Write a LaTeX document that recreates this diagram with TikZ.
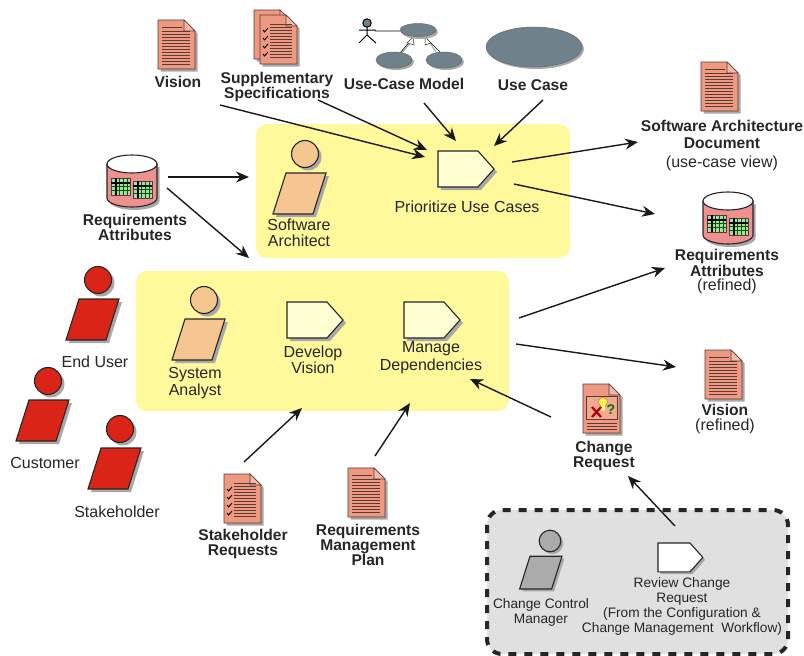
\documentclass[tikz,border=0pt]{standalone}
\usepackage{fontspec}
\setmainfont{Liberation Sans}
\usetikzlibrary{arrows.meta,shapes.geometric}
\definecolor{docfill}{HTML}{EE9A82}
\definecolor{docline}{HTML}{5A3A32}
\definecolor{shad}{HTML}{A8A8A8}
\definecolor{panel}{HTML}{FFF99C}
\definecolor{actfill}{HTML}{FFFFD2}
\definecolor{redp}{HTML}{DA2418}
\definecolor{orgp}{HTML}{F5C68F}
\definecolor{grayp}{HTML}{ABABAB}
\definecolor{ucfill}{HTML}{6F828C}
\definecolor{dbfill}{HTML}{EF9090}
\definecolor{tabfill}{HTML}{A9DCA4}
\definecolor{graybox}{HTML}{E0E0E0}
\newcommand\regtxt{\normalfont\fontsize{16}{16.5}\selectfont}
\tikzset{
  x=1pt,y=-1pt,
  arr/.style={-{Stealth[length=13pt,width=11pt]},line width=1.4pt,draw=black!90},
  lab/.style={font=\fontsize{16}{16.5}\selectfont,align=center,inner sep=0pt,text=black!85},
  blab/.style={font=\bfseries\fontsize{15.6}{14.5}\selectfont,align=center,inner sep=0pt,text=black!85},
  slab/.style={font=\fontsize{13.7}{15}\selectfont,align=center,inner sep=0pt,text=black!85},
  hold/.style={inner sep=0pt,outer sep=0pt},
  outl/.style={draw=black!85,line width=1.1pt,line join=miter},
  panelbox/.style={fill=panel,rounded corners=11pt},
  dline/.style={draw=docline,line width=.7pt},
}
% page shape: name, left, top
\newcommand\docshape[3]{%
  \node[hold,minimum width=37pt,minimum height=49pt] (#1) at (#2+18.5,#3+24.5) {};
  \begin{scope}[shift={(#2,#3)}]
    \fill[shad] (2.5,2.5) -- (28.5,2.5) -- (39.5,13.5) -- (39.5,51.5) -- (2.5,51.5) -- cycle;
    \filldraw[fill=docfill,draw=docline,line width=.9pt] (0,0) -- (26,0) -- (37,11) -- (37,49) -- (0,49) -- cycle;
    \draw[draw=docline,line width=.7pt,fill=docfill!70!white] (26,0) -- (26,11) -- (37,11) -- cycle;
  \end{scope}}
\newcommand\textlines[3]{% shift x, shift y, x-start
  \begin{scope}[shift={(#1,#2)}]
    \draw[dline] (#3,7) -- (24,7);
    \foreach \yy in {11,14,17,20,23,26,29,32,35,38,41,44} \draw[dline] (#3,\yy) -- (32,\yy);
  \end{scope}}
\newcommand\checkrows[2]{%
  \begin{scope}[shift={(#1,#2)}]
    \foreach \yy in {15,23,31,39}{
      \draw[black,line width=.9pt] (3,\yy) -- (4.5,\yy+2) -- (8,\yy-2);
    }
    \foreach \yy in {9,12,15,18,21,24,27,30,33,36,39,42}\draw[dline] (10,\yy) -- (32,\yy);
  \end{scope}}
\newcommand\person[6]{% name, head x, head y, body x-shift, fill, scale
  \begin{scope}[shift={(#2,#3)},scale=#6]
    \node[hold,minimum width=42pt,minimum height=60pt] (#1) at (-2,20) {};
    \fill[shad] (3,3) circle (13.5);
    \fill[shad] (#4-16,22) -- (#4+24,22) -- (#4+11,63) -- (#4-29,63) -- cycle;
    \filldraw[fill=#5,outl] (0,0) circle (13.5);
    \filldraw[fill=#5,outl] (#4-19,19) -- (#4+21,19) -- (#4+8,60) -- (#4-32,60) -- cycle;
  \end{scope}}
\newcommand\activity[5]{% name, left, top, fill, scale
  \node[hold,minimum width=56pt,minimum height=36pt] (#1) at (#2+28,#3+18) {};
  \begin{scope}[shift={(#2,#3)},scale=#5]
    \fill[shad] (3,3) -- (43,3) -- (59,21) -- (43,39) -- (3,39) -- cycle;
    \filldraw[fill=#4,outl] (0,0) -- (40,0) -- (56,18) -- (40,36) -- (0,36) -- cycle;
  \end{scope}}
\newcommand\tabl[2]{%
  \begin{scope}[shift={(#1,#2)}]
    \filldraw[fill=tabfill,draw=docline,line width=.4pt] (0,0) rectangle (19,17);
    \foreach \xx in {4,8,12,16}\draw[draw=green!35!black,line width=.3pt] (\xx,0) -- (\xx,17);
    \foreach \yy in {4,8,12}\draw[draw=green!35!black,line width=.3pt] (0,\yy) -- (19,\yy);
    \draw[black,line width=1.3pt] (5,0) -- (5,17);
    \draw[black,line width=1.3pt] (0,5) -- (19,5);
  \end{scope}}
\newcommand\dbshape[3]{% name, left, top
  \node[hold,minimum width=50pt,minimum height=52pt] (#1) at (#2+25,#3+26) {};
  \begin{scope}[shift={(#2,#3)}]
    \fill[shad] (2.5,12) -- (2.5,46) arc[start angle=180,end angle=0,x radius=25,y radius=9] -- (52.5,12) -- cycle;
    \filldraw[fill=dbfill,outl] (0,9) -- (0,43) arc[start angle=180,end angle=0,x radius=25,y radius=9] -- (50,9) -- cycle;
    \filldraw[fill=white,outl] (25,9) ellipse [x radius=25,y radius=9];
    \tabl{4}{23}\tabl{26}{26}
  \end{scope}}
\begin{document}
\begin{tikzpicture}
\useasboundingbox (0,0) rectangle (804,656);
% panels
\fill[panelbox] (256,124) rectangle (570,258);
\fill[panelbox] (136,271) rectangle (509,411);
\filldraw[fill=graybox,draw=black!85,line width=4pt,dash pattern=on 8pt off 8pt,rounded corners=15pt] (487,510) rectangle (788,654);

% top row artefacts
\docshape{visionDoc}{158}{20}\textlines{158}{20}{4}
\node[blab] (visionLab) at (178,82) {Vision};
\docshape{suppBack}{254}{10}
\docshape{suppDoc}{260}{15}\checkrows{260}{15}
\node[blab] (suppLab) at (277,87) {Supplementary\\Specifications};

% use-case model
\node[hold,minimum width=100pt,minimum height=56pt] (ucmIcon) at (410,42) {};
\draw[shad,line width=1.6pt] (375,31) -- (400,31);
\draw[shad,line width=1pt] (400,55) -- (413,40);
\draw[shad,line width=1pt] (438,55) -- (428,40);
\draw[black,line width=.6pt] (400,53) -- (412,39);
\draw[black,line width=.6pt] (440,52) -- (427,39);
\fill[white,draw=black!80,line width=.5pt] (413,37) -- (414,45) -- (407,43) -- cycle;
\fill[white,draw=black!80,line width=.5pt] (425,37) -- (431,43) -- (425,45) -- cycle;
\fill[shad] (420,32) ellipse [x radius=18,y radius=7];
\filldraw[fill=ucfill,draw=black!60,line width=.5pt] (418,30) ellipse [x radius=18,y radius=6.5];
\fill[shad] (396,62) ellipse [x radius=18,y radius=8];
\filldraw[fill=ucfill,draw=black!60,line width=.5pt] (394,60) ellipse [x radius=18,y radius=8];
\fill[shad] (446,62) ellipse [x radius=18,y radius=8];
\filldraw[fill=ucfill,draw=black!60,line width=.5pt] (444,60) ellipse [x radius=18,y radius=8];
\filldraw[fill=ucfill,draw=black,line width=1pt] (367,23) circle (4.2);
\draw[black,line width=1pt] (367,27) -- (367,35) (359,30) -- (376,30) (367,35) -- (359,43) (367,35) -- (376,43);
\node[blab] (ucmLab) at (404,84) {Use-Case Model};

\node[hold,minimum width=96pt,minimum height=40pt] (ucIcon) at (534,47) {};
\fill[shad] (536,49) ellipse [x radius=48,y radius=20];
\filldraw[fill=ucfill,draw=black!60,line width=.5pt] (534,47) ellipse [x radius=48,y radius=20];
\node[blab] (ucLab) at (533,85) {Use Case};

% right column
\docshape{sadDoc}{701}{62}\textlines{701}{62}{4}
\node[blab] (sadLab) at (722,134.5) {Software Architecture\\[2pt]Document};
\node[lab] (sadSub) at (722,163) {(use-case view)};
\dbshape{dbRight}{703}{192}
\node[blab] (dbRightLab) at (727,271.5) {Requirements\\Attributes\\{\regtxt (refined)}};
\docshape{visionRDoc}{705}{350}\textlines{705}{350}{4}
\node[blab] (visionRLab) at (725,419) {Vision\\{\regtxt (refined)}};

% left database
\dbshape{dbLeft}{107}{155}
\node[blab] (dbLeftLab) at (135,227.5) {Requirements\\Attributes};

% people in panels
\person{archP}{305}{154}{0}{orgp}{1}
\node[lab] (archLab) at (299,233) {Software\\Architect};
\person{sysP}{204}{300}{0}{orgp}{1}
\node[lab] (sysLab) at (195,383) {System\\Analyst};

% activities
\activity{prio}{438}{151}{actfill}{1}
\node[lab] (prioLab) at (467,207) {Prioritize Use Cases};
\activity{devV}{287}{302}{actfill}{1}
\node[lab] (devLab) at (313,360) {Develop\\Vision};
\activity{mgd}{404}{302}{actfill}{1}
\node[lab] (mgdLab) at (431,358) {Manage\\[1.5pt]Dependencies};

% stakeholders
\person{endU}{98}{280}{0}{redp}{1}
\node[lab] (endLab) at (95,362) {End User};
\person{cust}{48}{381}{0}{redp}{1}
\node[lab] (custLab) at (45,463) {Customer};
\person{stak}{120}{429}{0}{redp}{1}
\node[lab] (stakLab) at (117,512) {Stakeholder};

% bottom docs
\docshape{srDoc}{224}{474}\checkrows{224}{474}
\node[blab] (srLab) at (243,544) {Stakeholder\\Requests};
\docshape{rmpDoc}{348}{468}\textlines{348}{468}{4}
\node[blab] (rmpLab) at (368,545) {Requirements\\Management\\Plan};

% change request
\docshape{crDoc}{583}{384}
\filldraw[draw=docline,line width=.8pt,fill=docfill!85!white] (586,396) -- (617,396) -- (617,419) -- (586,419) -- cycle;
\draw[dline] (587,423) -- (617,423) (587,426) -- (617,426) (587,429) -- (617,429);
\fill[yellow!70!white,draw=orange!70!black,line width=.3pt] (603,402) circle (4.5);
\fill[yellow!50!white] (601,405) rectangle (605,411);
\draw[red!70!black,line width=2.2pt] (592,407) -- (601,417) (601,407) -- (592,417);
\node[inner sep=0pt,font=\bfseries\fontsize{14}{14}\selectfont,text=green!45!black] (crMark) at (611,410) {?};
\node[blab] (crLab) at (604,456) {Change\\Request};

% change control group
\person{ccm}{550}{541}{-6}{grayp}{0.8}
\node[slab] (ccmLab) at (541,612) {Change Control\\Manager};
\activity{rev}{658}{543}{white}{0.8}
\node[slab] (revLab) at (682,606) {Review Change\\Request\\(From the Configuration \&\\Change Management\ \ Workflow)};

% connector ends
\coordinate (a1) at (220,105); \coordinate (a2) at (425,157);
\coordinate (b1) at (318,100); \coordinate (b2) at (427,150);
\coordinate (c1) at (424,103); \coordinate (c2) at (456,141);
\coordinate (d1) at (543,100); \coordinate (d2) at (494,146);
\coordinate (e1) at (512,162); \coordinate (e2) at (638,142);
\coordinate (f1) at (514,184); \coordinate (f2) at (655,214);
\coordinate (g1) at (168,177); \coordinate (g2) at (249,177);
\coordinate (h1) at (167,188); \coordinate (h2) at (249,258);
\coordinate (i1) at (519,318); \coordinate (i2) at (665,268);
\coordinate (j1) at (516,344); \coordinate (j2) at (676,367);
\coordinate (k1) at (551,417); \coordinate (k2) at (470,379);
\coordinate (l1) at (244,462); \coordinate (l2) at (302,408);
\coordinate (m1) at (375,456); \coordinate (m2) at (410,403);
\coordinate (n1) at (675,526); \coordinate (n2) at (628,476);
\foreach \s/\t in {a1/a2,b1/b2,c1/c2,d1/d2,e1/e2,f1/f2,g1/g2,h1/h2,i1/i2,j1/j2,k1/k2,l1/l2,m1/m2,n1/n2}
  \draw[arr] (\s) -- (\t);
\end{tikzpicture}
\end{document}
